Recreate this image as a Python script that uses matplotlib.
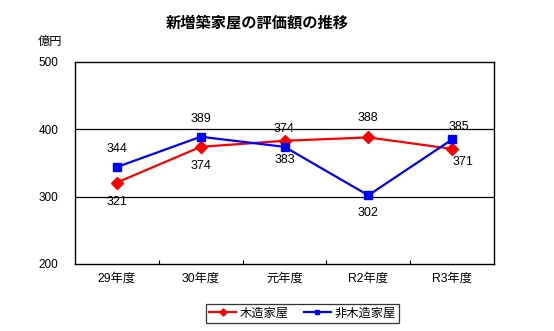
import matplotlib
matplotlib.use('Agg')
import matplotlib.pyplot as plt

plt.rcParams['font.family'] = ['Liberation Sans', 'Noto Sans CJK JP']

# 新増築家屋の評価額（億円）
years = ['29年度', '30年度', '元年度', 'R2年度', 'R3年度']
wooden = [321, 374, 383, 388, 371]
non_wooden = [344, 389, 374, 302, 385]
# data label side for each point: +1 above, -1 below
wooden_pos = [-1, -1, -1, 1, -1]
non_wooden_pos = [1, 1, 1, -1, 1]

fig = plt.figure(figsize=(5.54, 3.31), dpi=100)
ax = fig.add_axes([75 / 554, 1 - 264 / 331, 419 / 554, 202 / 331])

x = list(range(len(years)))
ax.plot(x, wooden, color='#ff0000', lw=1.6, marker='D', ms=6, label='木造家屋', zorder=3)
ax.plot(x, non_wooden, color='#0000ff', lw=1.6, marker='s', ms=5.8, label='非木造家屋', zorder=3)

for i, (v, p) in enumerate(zip(wooden, wooden_pos)):
    dx, dy = (11, 13) if i == len(years) - 1 else (0, 19)
    ax.annotate(str(v), (i, v), xytext=(dx, dy * p), textcoords='offset pixels',
                ha='center', va='center', fontsize=9)
for i, (v, p) in enumerate(zip(non_wooden, non_wooden_pos)):
    dx, dy = (7, 12) if i == len(years) - 1 else (0, 18)
    ax.annotate(str(v), (i, v), xytext=(dx, dy * p), textcoords='offset pixels',
                ha='center', va='center', fontsize=9)

ax.set_xlim(-0.5, len(years) - 0.5)
ax.set_ylim(200, 500)
ax.set_yticks([200, 300, 400, 500])
ax.tick_params(axis='y', length=0, pad=12, labelsize=8.5)
ax.set_xticks(x)
ax.set_xticklabels(years, fontsize=8.8)
ax.tick_params(axis='x', length=0, pad=6)
# category boundary ticks
ax.set_xticks([i + 0.5 for i in range(len(years) - 1)], minor=True)
ax.tick_params(axis='x', which='minor', direction='in', length=3, width=0.8)
for y in [300, 400]:
    ax.axhline(y, color='black', lw=0.9, zorder=1)
for s in ax.spines.values():
    s.set_linewidth(1)

fig.text(0.465, 1 - 23 / 331, '新増築家屋の評価額の推移', ha='center', va='center',
         fontsize=11, fontweight='bold')
fig.text(50 / 554, 1 - 42 / 331, '億円', ha='center', va='center', fontsize=8.8)

leg = fig.legend(loc='center', bbox_to_anchor=(302.5 / 554, 1 - 313.5 / 331), ncol=2,
                 fontsize=8.8, frameon=True, fancybox=False, edgecolor='black',
                 handlelength=2.2, handletextpad=0.3, columnspacing=1.2,
                 borderpad=0.3, markerscale=0.6)
leg.get_frame().set_linewidth(0.9)

fig.savefig('out.png', dpi=100)
